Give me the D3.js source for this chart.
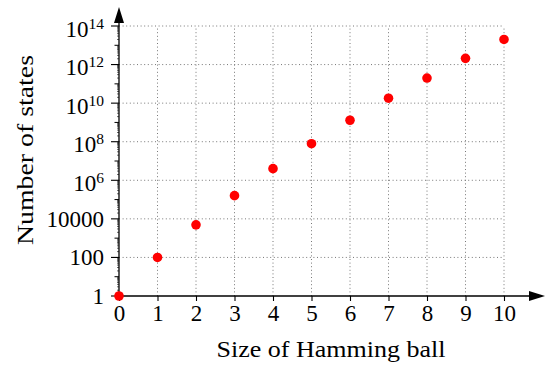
<!DOCTYPE html>
<html>
<head>
<meta charset="utf-8">
<script src="https://cdn.jsdelivr.net/npm/d3@7"></script>
<style>
    body { margin: 0; background: #fff; }
    text { font-family: "Liberation Serif", "DejaVu Serif", serif; fill: #000; }
</style>
</head>
<body>
<script>
// size of the Hamming ball
var ballSizes = [0, 1, 2, 3, 4, 5, 6, 7, 8, 9, 10];

// number of states in the ball
var numStates = [1, 100, 4900, 1.6e5, 4.0e6, 7.9e7, 1.3e9, 1.8e10, 2.0e11, 2.1e12, 2.0e13];

// tick values and labels ("^" marks an exponent)
var xTicks = [0, 1, 2, 3, 4, 5, 6, 7, 8, 9, 10];
var yTicks = [1, 1e2, 1e4, 1e6, 1e8, 1e10, 1e12, 1e14];
var yTickLabels = ["1", "100", "10000", "10^6", "10^8", "10^10", "10^12", "10^14"];

var xLabel = "Size of Hamming ball",
    yLabel = "Number of states";

var width = 546,
    height = 367;

var svg = d3.select("body").append("svg")
    .attr("width", width)
    .attr("height", height);

// scales
var scaleX = d3.scaleLinear()
    .domain([0, 10])
    .range([119, 504]);

var scaleY = d3.scaleLog()
    .domain([1, 1e14])
    .range([296, 26]);

// grid lines
var grid = svg.append("g")
    .attr("stroke", "#777")
    .attr("stroke-width", 1)
    .attr("stroke-dasharray", "1,2.6");

grid.selectAll(".vgrid")
    .data(xTicks.slice(1))
    .enter().append("line")
        .attr("x1", function(d) { return scaleX(d); })
        .attr("x2", function(d) { return scaleX(d); })
        .attr("y1", scaleY(1))
        .attr("y2", scaleY(1e14));

grid.selectAll(".hgrid")
    .data(yTicks.slice(1))
    .enter().append("line")
        .attr("x1", scaleX(0))
        .attr("x2", scaleX(10))
        .attr("y1", function(d) { return scaleY(d); })
        .attr("y2", function(d) { return scaleY(d); });

// x-axis ticks
var xAxis = d3.axisBottom(scaleX)
    .tickValues(xTicks)
    .tickSize(5)
    .tickSizeOuter(0)
    .tickFormat(d3.format("d"));

var gx = svg.append("g")
    .attr("transform", "translate(0," + scaleY(1) + ")")
    .call(xAxis);
gx.select(".domain").remove();
gx.selectAll("line").attr("stroke", "#000").attr("stroke-width", 1.1);
gx.selectAll("text")
    .attr("y", 9)
    .attr("dy", "0.71em")
    .style("font-family", "Liberation Serif")
    .style("font-size", "23px")
    .attr("fill", "#000");

// y-axis ticks: majors, odd decades, minor log ticks
var decades = d3.range(0, 15);
var minors = [];
decades.slice(0, 14).forEach(function(e) {
    for (var m = 2; m <= 9; m++) minors.push(m * Math.pow(10, e));
});

var yt = svg.append("g")
    .attr("stroke", "#000")
    .attr("stroke-width", 1);

yt.selectAll(".minor")
    .data(minors)
    .enter().append("line")
        .attr("x1", scaleX(0) - 2)
        .attr("x2", scaleX(0))
        .attr("y1", function(d) { return scaleY(d); })
        .attr("y2", function(d) { return scaleY(d); })
        .attr("stroke-width", 0.6);

yt.selectAll(".odd")
    .data(decades.filter(function(e) { return e % 2 == 1; }))
    .enter().append("line")
        .attr("x1", scaleX(0) - 4.5)
        .attr("x2", scaleX(0))
        .attr("y1", function(d) { return scaleY(Math.pow(10, d)); })
        .attr("y2", function(d) { return scaleY(Math.pow(10, d)); });

yt.selectAll(".major")
    .data(yTicks)
    .enter().append("line")
        .attr("x1", scaleX(0) - 8)
        .attr("x2", scaleX(0))
        .attr("y1", function(d) { return scaleY(d); })
        .attr("y2", function(d) { return scaleY(d); })
        .attr("stroke-width", 1.1);

// y tick labels
var ylab = svg.append("g")
    .selectAll("text")
    .data(yTicks)
    .enter().append("text")
        .attr("x", 104)
        .attr("y", function(d, i) {
            var hasExp = yTickLabels[i].indexOf("^") >= 0;
            return scaleY(d) + (hasExp ? 10.5 : 8);
        })
        .style("font-size", "23px")
        .style("text-anchor", "end");

ylab.each(function(d, i) {
    var parts = yTickLabels[i].split("^");
    var t = d3.select(this);
    t.append("tspan").text(parts[0]);
    if (parts.length > 1) {
        t.append("tspan")
            .attr("dy", -8)
            .style("font-size", "15.5px")
            .text(parts[1]);
    }
});

// axis lines with arrow heads
svg.append("defs").append("marker")
    .attr("id", "arrow")
    .attr("viewBox", "0 0 16 10")
    .attr("refX", 0)
    .attr("refY", 5)
    .attr("markerWidth", 16)
    .attr("markerHeight", 10)
    .attr("markerUnits", "userSpaceOnUse")
    .attr("orient", "auto")
    .append("path")
        .attr("d", "M0,0 L16,5 L0,10 Z")
        .attr("fill", "#000");

svg.append("line")
    .attr("x1", scaleX(0))
    .attr("x2", 529)
    .attr("y1", scaleY(1))
    .attr("y2", scaleY(1))
    .attr("stroke", "#000")
    .attr("stroke-width", 1.3)
    .attr("marker-end", "url(#arrow)");

svg.append("line")
    .attr("x1", scaleX(0))
    .attr("x2", scaleX(0))
    .attr("y1", scaleY(1))
    .attr("y2", 23)
    .attr("stroke", "#000")
    .attr("stroke-width", 1.3)
    .attr("marker-end", "url(#arrow)");

// data points
svg.selectAll("circle")
    .data(ballSizes)
    .enter().append("circle")
        .attr("cx", function(d) { return scaleX(d); })
        .attr("cy", function(d, i) { return scaleY(numStates[i]); })
        .attr("r", 4.8)
        .attr("fill", "#ff0000");

// axis titles
svg.append("text")
    .attr("x", 331)
    .attr("y", 357)
    .style("font-size", "23px")
    .style("text-anchor", "middle")
    .attr("textLength", 229)
    .attr("lengthAdjust", "spacingAndGlyphs")
    .text(xLabel);

svg.append("text")
    .attr("transform", "translate(33,150) rotate(-90)")
    .style("font-size", "23px")
    .style("text-anchor", "middle")
    .attr("textLength", 190)
    .attr("lengthAdjust", "spacingAndGlyphs")
    .text(yLabel);
</script>
</body>
</html>
